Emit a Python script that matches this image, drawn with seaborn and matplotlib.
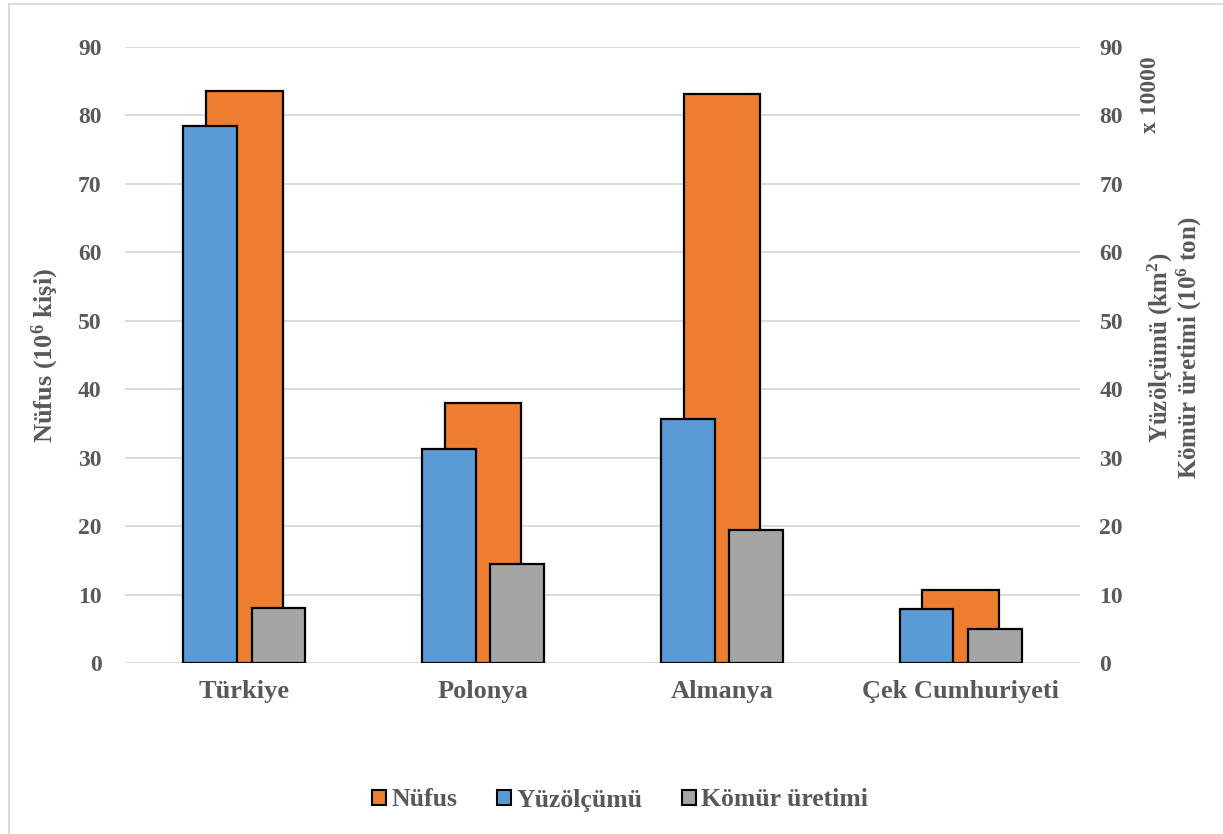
import matplotlib
matplotlib.use("Agg")
import matplotlib.pyplot as plt
from matplotlib.patches import Patch, Rectangle
import seaborn as sns
import pandas as pd

# Ülke verileri
ulkeler = ["Türkiye", "Polonya", "Almanya", "Çek Cumhuriyeti"]
nufus = [83.6, 38.0, 83.2, 10.7]          # 10^6 kişi
yuzolcumu = [78.4, 31.3, 35.7, 7.9]        # km² x 10000
komur = [8.1, 14.4, 19.4, 5.0]             # 10^6 ton
y_ticks = [0, 10, 20, 30, 40, 50, 60, 70, 80, 90]

renk_nufus = "#ED7D31"
renk_yuz = "#5B9BD5"
renk_komur = "#A5A5A5"
yazi_rengi = "#595959"
izgara_rengi = "#D9D9D9"

sns.set_theme(style="white")
plt.rcParams["font.family"] = ["Liberation Serif", "DejaVu Serif"]
plt.rcParams["font.weight"] = "bold"
plt.rcParams["mathtext.fontset"] = "custom"
plt.rcParams["mathtext.rm"] = "Liberation Serif:bold"
plt.rcParams["mathtext.bf"] = "Liberation Serif:bold"
plt.rcParams["mathtext.it"] = "Liberation Serif:italic:bold"

fig = plt.figure(figsize=(12.23, 8.34), dpi=100)
ax = fig.add_axes([125 / 1223, 1 - 663 / 834, (1080 - 125) / 1223, (663 - 47) / 834])
ax2 = ax.twinx()

df_nufus = pd.DataFrame({"ulke": ulkeler, "deger": nufus})
df_yuz = pd.DataFrame({"ulke": ulkeler, "deger": yuzolcumu})
df_komur = pd.DataFrame({"ulke": ulkeler, "deger": komur})

cizgi = dict(edgecolor="black", linewidth=1.6)

sns.barplot(data=df_nufus, x="ulke", y="deger", ax=ax, color=renk_nufus,
            width=0.32, saturation=1, **cizgi)


def kaydir(eksen, baslangic, ofset):
    for p in eksen.patches[baslangic:]:
        p.set_x(p.get_x() + ofset)


sns.barplot(data=df_yuz, x="ulke", y="deger", ax=ax2, color=renk_yuz,
            width=0.226, saturation=1, **cizgi)
kaydir(ax2, 0, -0.143)
n = len(ax2.patches)
sns.barplot(data=df_komur, x="ulke", y="deger", ax=ax2, color=renk_komur,
            width=0.226, saturation=1, **cizgi)
kaydir(ax2, n, 0.143)

for eksen in (ax, ax2):
    eksen.set_ylim(0, 90)
    eksen.set_yticks(y_ticks)
    eksen.set_xlim(-0.5, 3.5)
    for s in eksen.spines.values():
        s.set_visible(False)
    eksen.tick_params(axis="both", length=0, colors=yazi_rengi)
    eksen.set_xlabel("")
    eksen.set_ylabel("")

ax.set_axisbelow(True)
ax.yaxis.grid(True, color=izgara_rengi, linewidth=1.3)
ax2.grid(False)
ax.set_zorder(0)
ax2.set_zorder(1)
ax.patch.set_visible(False)

ax.set_yticklabels([str(t) for t in y_ticks], fontsize=17, fontweight="bold", color=yazi_rengi)
ax2.set_yticklabels([str(t) for t in y_ticks], fontsize=17, fontweight="bold", color=yazi_rengi)
ax.tick_params(axis="y", pad=17)
ax2.tick_params(axis="y", pad=14)
ax.set_xticks(range(len(ulkeler)))
ax.set_xticklabels(ulkeler, fontsize=19, fontweight="bold", color=yazi_rengi)
ax.tick_params(axis="x", pad=12)

fig.text(45 / 1223, 1 - 355 / 834, r"Nüfus (10$^{6}$ kişi)", rotation=90,
         ha="center", va="center", fontsize=19, fontweight="bold", color=yazi_rengi)
fig.text(1175 / 1223, 1 - 348 / 834,
         "Yüzölçümü (km$^{2}$)\nKömür üretimi (10$^{6}$ ton)",
         rotation=90, ha="center", va="center", fontsize=18, fontweight="bold",
         color=yazi_rengi, linespacing=1.0, multialignment="center")
fig.text(1150 / 1223, 1 - 95 / 834, "x 10000", rotation=90, ha="center", va="center",
         fontsize=17, fontweight="bold", color=yazi_rengi)

handles = [Patch(facecolor=renk_nufus, edgecolor="black", linewidth=1.5, label="Nüfus"),
           Patch(facecolor=renk_yuz, edgecolor="black", linewidth=1.5, label="Yüzölçümü"),
           Patch(facecolor=renk_komur, edgecolor="black", linewidth=1.5, label="Kömür üretimi")]
leg = fig.legend(handles=handles, loc="center", bbox_to_anchor=(620 / 1223, 1 - 800 / 834),
                 ncol=3, frameon=False, fontsize=18.5, handlelength=0.55, handleheight=0.55,
                 handletextpad=0.2, columnspacing=1.55)
for t in leg.get_texts():
    t.set_color(yazi_rengi)
    t.set_fontweight("bold")

# Grafik çerçevesi
fig.patches.append(Rectangle((9 / 1223, -0.1), 1.2, 1 - 4 / 834 + 0.1,
                             transform=fig.transFigure, fill=False,
                             edgecolor=izgara_rengi, linewidth=1.3))

fig.savefig("out.png", dpi=100)
